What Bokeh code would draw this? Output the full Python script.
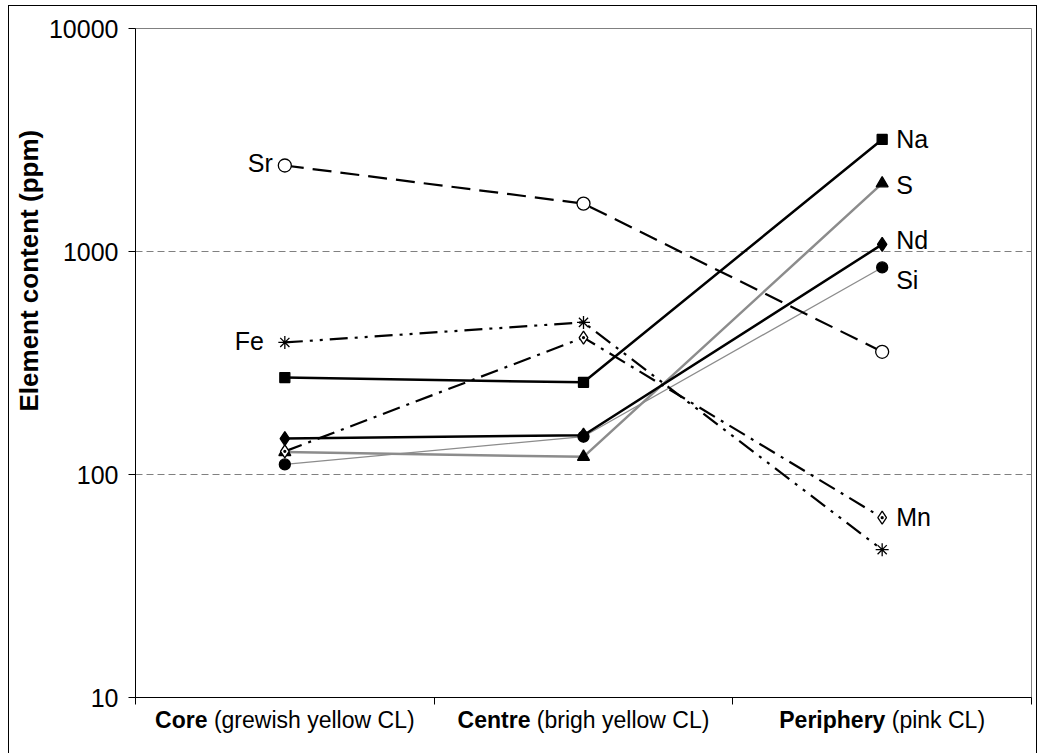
from bokeh.plotting import figure
from bokeh.layouts import column
from bokeh.models import Range1d, FixedTicker, NumeralTickFormatter, Title
from bokeh.embed import file_html
from bokeh.resources import INLINE
from bokeh.core.properties import value

# ---- data -------------------------------------------------------------
zone_names = ["Core", "Centre", "Periphery"]
zone_notes = ["(grewish yellow CL)", "(brigh yellow CL)", "(pink CL)"]
zone_x = [0.5, 1.5, 2.5]

na = [272, 259, 3180]
s = [126, 120, 2020]
nd = [145, 150, 1076]
si = [111, 148, 848]
sr = [2430, 1640, 355]
fe = [391, 481, 46]
mn = [127, 411, 64]

y_ticks = [10, 100, 1000, 10000]

FONT = "Liberation Sans"

# Arial-compatible advance widths (1/1000 em) for the zone captions
REG = {" ": 278, "(": 333, ")": 333, "a": 556, "b": 556, "c": 500, "e": 556,
       "g": 556, "h": 556, "i": 222, "k": 500, "l": 222, "n": 556, "o": 556,
       "p": 556, "r": 333, "s": 500, "w": 722, "y": 500, "C": 722, "L": 556}
BOLD = {" ": 278, "C": 722, "o": 611, "r": 389, "e": 556, "n": 611, "t": 333,
        "P": 667, "i": 278, "p": 611, "h": 611, "y": 556}


def text_width(txt, size, table):
    return sum(table.get(ch, 556) for ch in txt) * size / 1000.0


W = 1027
BL, BR = 126, 5

x_range = Range1d(0, 3)

# ---- main chart -------------------------------------------------------
p = figure(width=W, height=706, x_range=x_range, y_range=Range1d(10, 10000),
           y_axis_type="log", output_backend="svg", toolbar_location=None,
           min_border_left=BL, min_border_right=BR,
           min_border_top=22, min_border_bottom=15)
p.background_fill_color = "white"
p.border_fill_color = "white"
p.outline_line_color = "#808080"
p.outline_line_width = 1

p.yaxis.ticker = FixedTicker(ticks=y_ticks, minor_ticks=[])
p.yaxis.formatter = NumeralTickFormatter(format="0")
p.yaxis.major_label_text_font = FONT
p.yaxis.major_label_text_font_size = "25px"
p.yaxis.major_label_text_color = "black"
p.yaxis.major_label_standoff = 10
p.yaxis.major_tick_out = 7
p.yaxis.major_tick_in = 0
p.yaxis.minor_tick_out = 0
p.yaxis.axis_line_color = "black"
p.yaxis.major_tick_line_color = "black"

p.xaxis.ticker = FixedTicker(ticks=[0, 1, 2, 3])
p.xaxis.major_label_overrides = {0: "", 1: "", 2: "", 3: ""}
p.xaxis.major_label_text_font_size = "2px"
p.xaxis.major_label_standoff = 0
p.xaxis.major_tick_out = 7
p.xaxis.major_tick_in = 0
p.xaxis.axis_line_color = "black"
p.xaxis.major_tick_line_color = "black"

p.xgrid.visible = False
p.ygrid.ticker = FixedTicker(ticks=[100, 1000], minor_ticks=[])
p.ygrid.grid_line_color = "#808080"
p.ygrid.grid_line_dash = "7 4"
p.ygrid.grid_line_width = 1

# vertical axis title, set lower than the frame centre
p.add_layout(Title(text="Element content (ppm)", align="left", offset=286,
                   text_font=FONT, text_font_size="26px", text_font_style="bold",
                   text_color="black", standoff=4), "left")

# series: name, values, line colour, width, dash, marker, size, fill
series = [
    ("Si", si, "#8c8c8c", 1.3, "solid", "circle", 11, "black"),
    ("S", s, "#8c8c8c", 2.5, "solid", "triangle", 12, "black"),
    ("Nd", nd, "black", 2.5, "solid", "diamond", 14, "black"),
    ("Na", na, "black", 2.5, "solid", "square", 10, "black"),
    ("Mn", mn, "black", 2.2, "18 7 3 7", "diamond_dot", 13, "white"),
    ("Fe", fe, "black", 2.2, "18 7 3 7 3 7", "asterisk", 13, "black"),
    ("Sr", sr, "black", 2.2, "19 9", "circle", 13, "white"),
]

for name, vals, col, lw, dash, marker, size, fill in series:
    p.line(zone_x, vals, line_color=col, line_width=lw, line_dash=dash)
for name, vals, col, lw, dash, marker, size, fill in series:
    p.scatter(zone_x, vals, marker=marker, size=size, fill_color=fill,
              line_color="black", line_width=1.3)

# element names next to the end points
right_labels = [("Na", na, 0), ("S", s, 2), ("Nd", nd, -4), ("Si", si, 13), ("Mn", mn, -1)]
for name, vals, dy in right_labels:
    p.text([zone_x[2]], [vals[2]], text=[name], x_offset=14, y_offset=dy,
           text_font=value(FONT), text_font_size="25px", text_color="black",
           text_baseline="middle", text_align="left")

left_labels = [("Sr", sr, -12, -3), ("Fe", fe, -21, -1)]
for name, vals, dx, dy in left_labels:
    p.text([zone_x[0]], [vals[0]], text=[name], x_offset=dx, y_offset=dy,
           text_font=value(FONT), text_font_size="25px", text_color="black",
           text_baseline="middle", text_align="right")

# ---- zone captions strip (bold zone name + plain description) ----------
# transparent strip tucked slightly under the chart's bottom margin
cap = figure(width=W, height=50, x_range=x_range, y_range=Range1d(0, 1),
             output_backend="svg", toolbar_location=None, title=None,
             min_border_left=BL, min_border_right=BR,
             min_border_top=0, min_border_bottom=0,
             x_axis_location=None, y_axis_location=None)
cap.outline_line_color = None
cap.grid.visible = False
cap.background_fill_color = None
cap.border_fill_color = None
cap.background_fill_alpha = 0
cap.border_fill_alpha = 0
cap.styles = {"margin-top": "-9px"}

CAT_SIZE = 23
for zx, bold_txt, note in zip(zone_x, zone_names, zone_notes):
    wb = text_width(bold_txt, CAT_SIZE, BOLD)
    wsp = text_width(" ", CAT_SIZE, REG)
    wn = text_width(note, CAT_SIZE, REG)
    left = -(wb + wsp + wn) / 2.0
    cap.text([zx], [1], text=[bold_txt], x_offset=left, y_offset=16,
             text_font=value(FONT), text_font_size=f"{CAT_SIZE}px",
             text_font_style="bold", text_color="black",
             text_align="left", text_baseline="middle")
    cap.text([zx], [1], text=[note], x_offset=left + wb + wsp, y_offset=16,
             text_font=value(FONT), text_font_size=f"{CAT_SIZE}px",
             text_color="black", text_align="left", text_baseline="middle")

layout = column(p, cap, spacing=0)
layout.styles = {"border": "1px solid black", "margin-left": "8px", "margin-top": "5px",
                 "background-color": "white"}

open("out.html", "w").write(file_html(layout, INLINE))
